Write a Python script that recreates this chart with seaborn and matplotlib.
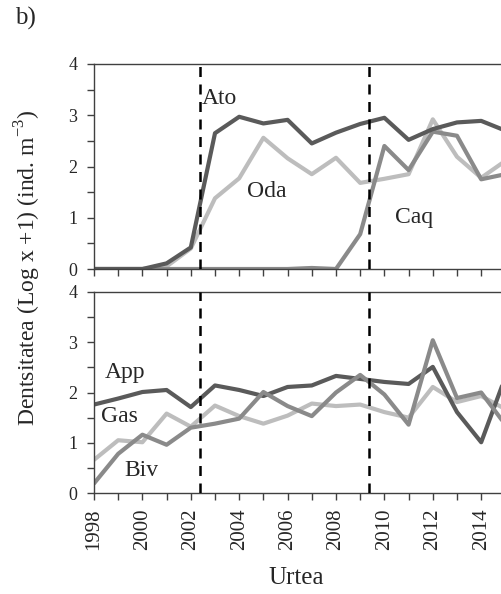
import numpy as np
import pandas as pd
import matplotlib
matplotlib.use("Agg")
import matplotlib.pyplot as plt
import seaborn as sns

years = list(range(1998, 2016))

# Top panel
ato = [0, 0, 0, 0.11, 0.42, 2.65, 2.97, 2.84, 2.91, 2.45, 2.66, 2.83, 2.95, 2.52, 2.73, 2.86, 2.89, 2.70]
oda = [0, 0, 0, 0.05, 0.40, 1.38, 1.77, 2.56, 2.16, 1.85, 2.17, 1.68, 1.76, 1.85, 2.92, 2.19, 1.78, 2.11]
caq = [0, 0, 0, 0, 0, 0, 0, 0, 0, 0.02, 0, 0.68, 2.40, 1.93, 2.68, 2.60, 1.75, 1.85]

# Bottom panel
app = [1.76, 1.88, 2.01, 2.05, 1.71, 2.14, 2.05, 1.93, 2.11, 2.14, 2.33, 2.27, 2.21, 2.17, 2.51, 1.61, 1.01, 2.31]
gas = [0.66, 1.05, 1.01, 1.58, 1.32, 1.74, 1.53, 1.38, 1.54, 1.78, 1.73, 1.76, 1.61, 1.50, 2.11, 1.81, 1.93, 1.67]
biv = [0.19, 0.78, 1.16, 0.96, 1.30, 1.38, 1.48, 2.01, 1.73, 1.53, 2.00, 2.35, 1.96, 1.36, 3.04, 1.89, 2.00, 1.36]

breaks = [2002.4, 2009.35]
x_tick_years = list(range(1998, 2015, 2))

sns.set_style("ticks")
plt.rcParams["font.family"] = ["Liberation Serif", "DejaVu Serif"]
plt.rcParams["mathtext.fontset"] = "custom"
plt.rcParams["mathtext.rm"] = "Liberation Serif"

dark, mid, light = "#5a5a5a", "#8a8a8a", "#bdbdbd"

top_df = pd.DataFrame({"year": years * 3,
                       "val": ato + oda + caq,
                       "sp": ["Ato"] * 18 + ["Oda"] * 18 + ["Caq"] * 18})
bot_df = pd.DataFrame({"year": years * 3,
                       "val": app + gas + biv,
                       "sp": ["App"] * 18 + ["Gas"] * 18 + ["Biv"] * 18})

fig = plt.figure(figsize=(5.02, 5.94), dpi=100)
ax1 = fig.add_axes([94 / 502, 1 - 269 / 594, (502 - 94) / 502, (269 - 64) / 594])
ax2 = fig.add_axes([94 / 502, 1 - 493 / 594, (502 - 94) / 502, (493 - 292) / 594])

sns.lineplot(data=top_df, x="year", y="val", hue="sp",
             palette={"Ato": dark, "Oda": light, "Caq": mid},
             hue_order=["Oda", "Caq", "Ato"], linewidth=3, legend=False, ax=ax1)
sns.lineplot(data=bot_df, x="year", y="val", hue="sp",
             palette={"App": dark, "Gas": light, "Biv": mid},
             hue_order=["Gas", "App", "Biv"], linewidth=3, legend=False, ax=ax2)

for ax in (ax1, ax2):
    ax.set_xlim(1998, 2014.86)
    ax.set_ylim(0, 4)
    ax.set_yticks([0, 1, 2, 3, 4])
    ax.set_yticks(np.arange(0.5, 4, 1), minor=True)
    ax.set_xticks(x_tick_years)
    ax.set_xticks(list(range(1999, 2015, 2)), minor=True)
    ax.set_xlabel("")
    ax.set_ylabel("")
    for s in ("left", "bottom", "top"):
        ax.spines[s].set_color("#404040")
        ax.spines[s].set_linewidth(1.0)
    ax.spines["right"].set_visible(False)
    ax.tick_params(which="both", direction="out", length=5, width=1, color="#404040")
    ax.tick_params(axis="y", labelsize=13, pad=7)
    for b in breaks:
        ax.axvline(b, color="black", linestyle=(0, (4, 3)), linewidth=1.8, zorder=5)

ax1.tick_params(axis="x", labelbottom=False)
ax2.set_xticklabels([str(y) for y in x_tick_years], rotation=90, fontsize=15)
ax2.tick_params(axis="x", pad=6)

lab_fs = 17
ax1.text(2002.46, 3.32, "Ato", fontsize=lab_fs, va="center", ha="left")
ax1.text(2004.32, 1.52, "Oda", fontsize=lab_fs, va="center", ha="left")
ax1.text(2010.44, 1.01, "Caq", fontsize=lab_fs, va="center", ha="left")
ax2.text(1998.45, 2.39, "App", fontsize=lab_fs, va="center", ha="left")
ax2.text(1998.29, 1.53, "Gas", fontsize=lab_fs, va="center", ha="left")
ax2.text(1999.24, 0.44, "Biv", fontsize=lab_fs, va="center", ha="left")

fig.text(0.056, 1 - 268 / 594, r"Dentsitatea (Log x +1) (ind. m$^{\mathregular{-3}}$)",
         rotation=90, fontsize=17, ha="center", va="center")
fig.text(296 / 502, 1 - 578 / 594, "Urtea", fontsize=18, ha="center", va="center")
fig.text(15 / 502, 1 - 18 / 594, "b)", fontsize=18, ha="left", va="center")

fig.savefig("out.png", dpi=100)
